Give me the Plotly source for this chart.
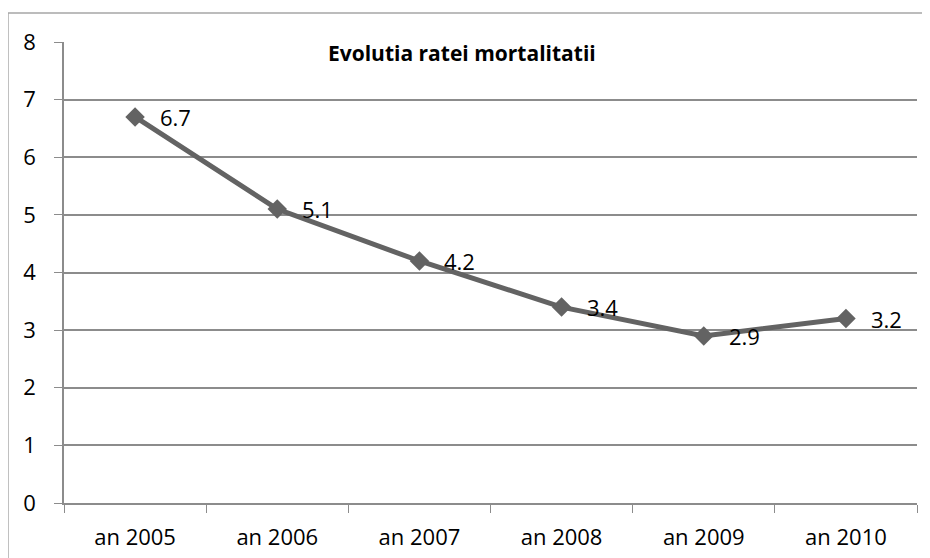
import plotly.graph_objects as go

categories = ["an 2005", "an 2006", "an 2007", "an 2008", "an 2009", "an 2010"]
values = [6.7, 5.1, 4.2, 3.4, 2.9, 3.2]
title_text = "Evolutia ratei mortalitatii"

FONT = "Open Sans, sans-serif"
GRID = "#8c8c8c"
LINE = "#636363"

fig = go.Figure()
fig.add_trace(go.Scatter(
    x=categories, y=values,
    mode="lines+markers",
    line=dict(color=LINE, width=5),
    marker=dict(symbol="diamond", size=15, color=LINE),
    cliponaxis=False,
    showlegend=False,
))

annotations = [dict(
    x=c, y=v, text=f"{v:.1f}", xref="x", yref="y",
    xanchor="left", yanchor="middle", xshift=23, showarrow=False,
    font=dict(family=FONT, size=22, color="black"),
) for c, v in zip(categories, values)]

annotations.append(dict(
    text=f"<b>{title_text}</b>", xref="paper", yref="paper",
    x=0.467, y=0.977, xanchor="center", yanchor="middle", showarrow=False,
    font=dict(family=FONT, size=21, color="black"),
))

fig.update_layout(
    width=922, height=550,
    margin=dict(l=56, r=13, t=34, b=55, autoexpand=False),
    paper_bgcolor="white", plot_bgcolor="white",
    font=dict(family=FONT, size=22, color="black"),
    xaxis=dict(
        type="category", range=[-0.5, len(categories) - 0.5],
        tickson="boundaries", ticks="outside", ticklen=8,
        tickcolor=GRID, showline=True, linecolor=GRID, linewidth=1.5,
        showgrid=False, ticklabelstandoff=14, automargin=False,
        tickfont=dict(family=FONT, size=22),
    ),
    yaxis=dict(
        range=[0, 8], dtick=1, ticks="outside", ticklen=8, tickcolor=GRID,
        showline=True, linecolor=GRID, linewidth=1.5,
        showgrid=True, gridcolor=GRID, gridwidth=1.5, zeroline=False,
        ticklabelstandoff=14, automargin=False,
        tickfont=dict(family=FONT, size=22),
    ),
    annotations=annotations,
    shapes=[dict(
        type="rect", xref="paper", yref="paper",
        x0=-0.0657, x1=1.1, y0=-0.3, y1=1.0629,
        line=dict(color="#a6a6a6", width=1.5), layer="below",
    )],
)

fig.write_html("out.html")
